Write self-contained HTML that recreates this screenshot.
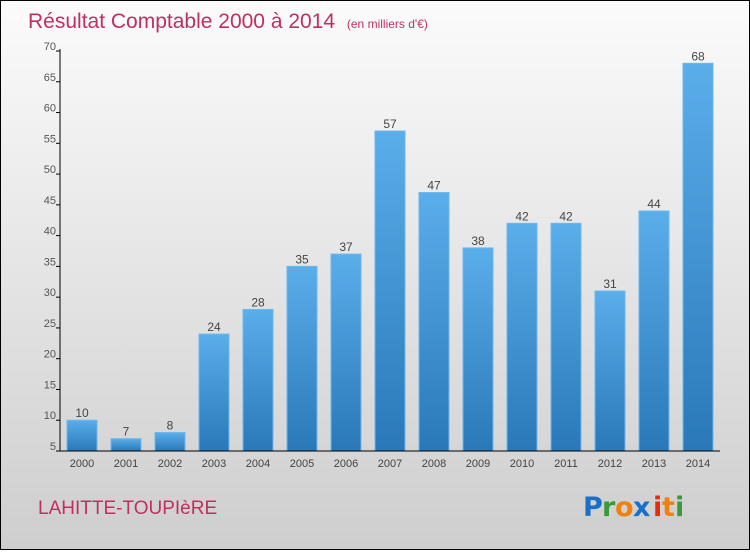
<!DOCTYPE html>
<html><head><meta charset="utf-8"><style>
html,body{margin:0;padding:0}
body{width:750px;height:550px;overflow:hidden;font-family:"Liberation Sans",sans-serif}
#wrap{position:relative;width:748px;height:548px;border:1px solid #000;background:linear-gradient(#fbfbfb,#cecece)}
</style></head><body>
<div id="wrap">
<svg id="chart" width="748" height="548">
<text x="27" y="27" font-size="21" fill="#c0305e">Résultat Comptable 2000 à 2014 <tspan font-size="12" dx="6">(en milliers d'€)</tspan></text>
<text x="37" y="513" font-size="19" fill="#c0305e">LAHITTE-TOUPIèRE</text>
<g font-size="27" font-family="'DejaVu Sans',sans-serif" font-weight="bold">
<text x="582" y="515" fill="#1a6fc8">P</text><text x="601" y="515" fill="#3a9a3a">r</text><text x="614" y="515" fill="#f08010">o</text><text x="632" y="515" fill="#1a6fc8">x</text><text x="652" y="515" fill="#e03010">i</text><text x="661" y="515" fill="#f08010">t</text><text x="674" y="515" fill="#3a9a3a">i</text>
</g>
<defs><linearGradient id="bg" x1="0" y1="0" x2="0" y2="1"><stop offset="0" stop-color="#5aaeea"/><stop offset="1" stop-color="#2a78b8"/></linearGradient></defs>
<g id="bars"></g><g id="axes"></g>
</svg></div>
<script>
const years=["2000","2001","2002","2003","2004","2005","2006","2007","2008","2009","2010","2011","2012","2013","2014"];
const values=[10,7,8,24,28,35,37,57,47,38,42,42,31,44,68];
const yTicks=[5,10,15,20,25,30,35,40,45,50,55,60,65,70];
const NS="http://www.w3.org/2000/svg";
const yMin=5,yMax=70,yTop=50,yBot=450,x0=59,x1=719;
const y=v=>yBot-(v-yMin)/(yMax-yMin)*(yBot-yTop);
const xc=i=>81+i*44;
function mk(t,a,p){const e=document.createElementNS(NS,t);for(const k in a)e.setAttribute(k,a[k]);p.appendChild(e);return e;}
const bars=document.getElementById('bars'),axes=document.getElementById('axes');
values.forEach((v,i)=>{
 const r=mk('rect',{x:xc(i)-15,y:y(v),width:30,height:yBot-y(v),fill:'url(#bg)',stroke:'#6bb8ee','stroke-width':1},bars);
 
 
 const t=mk('text',{x:xc(i),y:y(v)-3,'text-anchor':'middle','font-size':12,fill:'#444'},bars);t.textContent=v;
 
 
 const l=mk('text',{x:xc(i),y:466,'text-anchor':'middle','font-size':11,fill:'#444'},axes);l.textContent=years[i];
 
 
});
const ya=mk('line',{x1:x0,y1:yTop-2,x2:x0,y2:yBot,stroke:'#000'},axes);


const xa=mk('line',{x1:x0,y1:yBot,x2:x1,y2:yBot,stroke:'#000'},axes);


yTicks.forEach(v=>{
 mk('line',{x1:x0-4,y1:y(v),x2:x0,y2:y(v),stroke:'#000'},axes);
 const t=mk('text',{x:x0-4,y:y(v)-1,'text-anchor':'end','font-size':11,fill:'#555'},axes);t.textContent=v;
 
 
});
</script>
</body></html>
